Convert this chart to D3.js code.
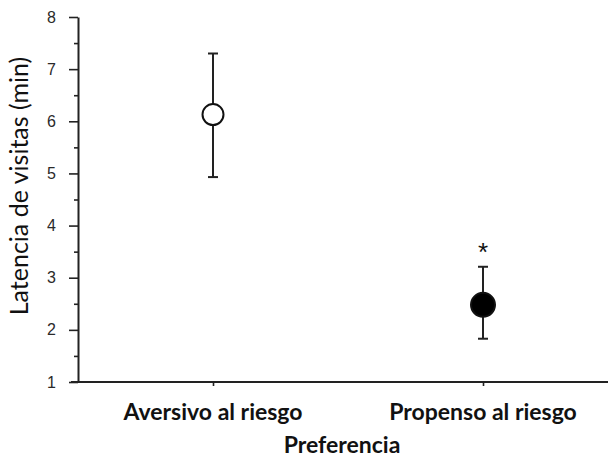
<!DOCTYPE html>
<html>
<head>
<meta charset="utf-8">
<script src="https://cdn.jsdelivr.net/npm/d3@7"></script>
<style>
  body { margin: 0; background: #fff; }
  svg { display: block; }
</style>
</head>
<body>
<script>
var categories = ["Aversivo al riesgo", "Propenso al riesgo"];
var means = [6.13, 2.48];
var upper = [7.30, 3.21];
var lower = [4.93, 1.83];
var filled = [false, true];
var marks = ["", "*"];
var yTicks = [1, 2, 3, 4, 5, 6, 7, 8];
var yMinor = [1.5, 2.5, 3.5, 4.5, 5.5, 6.5, 7.5];

var width = 608, height = 460;
var plotLeft = 78, plotBottom = 382, plotTop = 17;

var svg = d3.select("body").append("svg")
            .attr("width", width)
            .attr("height", height);

var x = d3.scalePoint().domain(categories).range([plotLeft, 618]).padding(0.5);
var y = d3.scaleLinear().domain([1, 8]).range([plotBottom, plotTop]);

// minor ticks
svg.append("g")
   .attr("transform", "translate(" + plotLeft + ",0)")
   .call(d3.axisLeft(y).tickValues(yMinor).tickSize(4).tickFormat(""))
   .call(function(g) { g.select(".domain").remove(); })
   .selectAll("line").attr("stroke", "#222").attr("stroke-width", 1.6);

// y axis
var yAxis = svg.append("g")
   .attr("transform", "translate(" + plotLeft + ",0)")
   .call(d3.axisLeft(y).tickValues(yTicks).tickSize(9).tickSizeOuter(0).tickPadding(13).tickFormat(d3.format("d")));
yAxis.select(".domain").attr("stroke", "#222").attr("stroke-width", 2);
yAxis.selectAll("line").attr("stroke", "#222").attr("stroke-width", 1.6);
yAxis.attr("font-size", 16).attr("font-family", "Liberation Sans, Arial, sans-serif");
yAxis.selectAll("text").attr("fill", "#2a2a2a");

// x axis
var xAxis = svg.append("g")
   .attr("transform", "translate(0," + plotBottom + ")")
   .call(d3.axisBottom(x).tickSize(4).tickSizeOuter(0).tickFormat(""));
xAxis.select(".domain").attr("d", "M" + (plotLeft - 7) + ",0H" + width)
     .attr("stroke", "#222").attr("stroke-width", 2);
xAxis.selectAll("line").attr("stroke", "#222").attr("stroke-width", 1.6);

// category labels
svg.selectAll(".cat")
   .data(categories)
   .enter().append("text")
   .attr("class", "cat")
   .attr("x", function(d) { return x(d); })
   .attr("y", 420)
   .attr("text-anchor", "middle")
   .attr("font-family", "Lato, sans-serif")
   .attr("font-weight", "bold")
   .attr("font-size", 23)
   .attr("fill", "#111")
   .text(function(d) { return d; });

svg.append("text")
   .attr("x", 342)
   .attr("y", 453)
   .attr("text-anchor", "middle")
   .attr("font-family", "Lato, sans-serif")
   .attr("font-weight", "bold")
   .attr("font-size", 23)
   .attr("fill", "#111")
   .text("Preferencia");

svg.append("text")
   .attr("transform", "translate(28,186) rotate(-90)")
   .attr("text-anchor", "middle")
   .attr("font-family", "Lato, sans-serif")
   .attr("font-size", 25)
   .attr("fill", "#111")
   .text("Latencia de visitas (min)");

// error bars
var g = svg.selectAll(".pt")
   .data(categories)
   .enter().append("g")
   .attr("class", "pt");

g.append("line")
 .attr("x1", function(d) { return x(d); })
 .attr("x2", function(d) { return x(d); })
 .attr("y1", function(d, i) { return y(upper[i]); })
 .attr("y2", function(d, i) { return y(lower[i]); })
 .attr("stroke", "#222").attr("stroke-width", 2);

g.append("line")
 .attr("x1", function(d) { return x(d) - 5; })
 .attr("x2", function(d) { return x(d) + 5; })
 .attr("y1", function(d, i) { return y(upper[i]); })
 .attr("y2", function(d, i) { return y(upper[i]); })
 .attr("stroke", "#222").attr("stroke-width", 2);

g.append("line")
 .attr("x1", function(d) { return x(d) - 5; })
 .attr("x2", function(d) { return x(d) + 5; })
 .attr("y1", function(d, i) { return y(lower[i]); })
 .attr("y2", function(d, i) { return y(lower[i]); })
 .attr("stroke", "#222").attr("stroke-width", 2);

g.append("circle")
 .attr("cx", function(d) { return x(d); })
 .attr("cy", function(d, i) { return y(means[i]); })
 .attr("r", function(d, i) { return filled[i] ? 12 : 10.5; })
 .attr("fill", function(d, i) { return filled[i] ? "#000" : "#fff"; })
 .attr("stroke", "#111").attr("stroke-width", 2);

g.append("text")
 .attr("x", function(d) { return x(d); })
 .attr("y", function(d, i) { return y(upper[i]) - 6; })
 .attr("text-anchor", "middle")
 .attr("font-family", "Liberation Sans, Arial, sans-serif")
 .attr("font-size", 26)
 .attr("fill", "#111")
 .text(function(d, i) { return marks[i]; });
</script>
</body>
</html>
